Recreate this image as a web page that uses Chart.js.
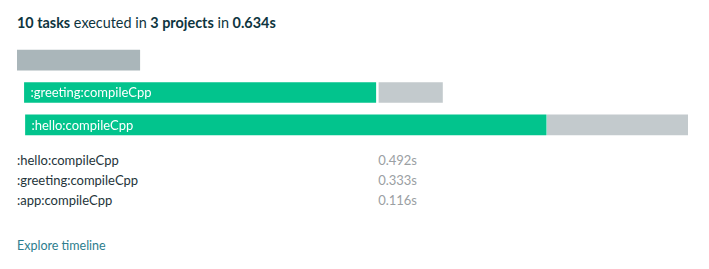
<!DOCTYPE html>
<html>
<head>
<meta charset="utf-8">
<script src="https://cdn.jsdelivr.net/npm/chart.js@4/dist/chart.umd.min.js"></script>
<style>
  html, body { margin: 0; padding: 0; background: #fff; width: 709px; height: 269px; overflow: hidden; font-family: Lato, "Open Sans", sans-serif; }
  #title { position: absolute; left: 17px; top: 14px; font-size: 14.4px; color: #0e3540; white-space: nowrap; }
  #title b { font-weight: 700; }
  #wrap { position: absolute; left: 17px; top: 44px; width: 671px; height: 97px; }
  #tbl { position: absolute; left: 17px; top: 150px; width: 400px; font-size: 13px; }
  .row { position: relative; height: 20px; line-height: 20px; }
  .row .n { position: absolute; left: 0; color: #24343a; }
  .row .v { position: absolute; right: 0; color: #9ba0a3; }
  #link { position: absolute; left: 17px; top: 238px; font-size: 12.5px; color: #2d7d8e; }
</style>
</head>
<body>
<div id="title"><b>10 tasks</b> executed in <b>3 projects</b> in <b>0.634s</b></div>
<div id="wrap"><canvas id="c"></canvas></div>
<div id="tbl"></div>
<div id="link">Explore timeline</div>
<script>
// Timeline rows (one per project lane)
const rows = ['app', 'greeting', 'hello'];
// Floating bar ranges in seconds [start, end]
const projectSpan = [[0, 0.116], null, null];
const compileTasks = [null, [0.007, 0.339], [0.008, 0.500]];
const otherTasks = [null, [0.342, 0.402], [0.501, 0.634]];
const compileLabels = [null, ':greeting:compileCpp', ':hello:compileCpp'];
const totalTime = 0.634;
// Slowest tasks table
const taskNames = [':hello:compileCpp', ':greeting:compileCpp', ':app:compileCpp'];
const taskDurations = [0.492, 0.333, 0.116];

const tbl = document.getElementById('tbl');
taskNames.forEach((n, i) => {
  const r = document.createElement('div');
  r.className = 'row';
  r.innerHTML = '<span class="n"></span><span class="v"></span>';
  r.querySelector('.n').textContent = n;
  r.querySelector('.v').textContent = taskDurations[i].toFixed(3) + 's';
  tbl.appendChild(r);
});

const labelPlugin = {
  id: 'barLabels',
  afterDatasetsDraw(chart) {
    const ctx = chart.ctx;
    const meta = chart.getDatasetMeta(1);
    ctx.save();
    ctx.font = '13px Lato, sans-serif';
    ctx.fillStyle = '#ffffff';
    ctx.textBaseline = 'middle';
    ctx.textAlign = 'left';
    meta.data.forEach((el, i) => {
      if (!compileLabels[i]) return;
      const left = Math.min(el.x, el.base);
      ctx.fillText(compileLabels[i], left + 6, el.y + 0.5);
    });
    ctx.restore();
  }
};

new Chart(document.getElementById('c'), {
  type: 'bar',
  data: {
    labels: rows,
    datasets: [
      { data: projectSpan, backgroundColor: '#aab6ba', grouped: false, barThickness: 20, borderWidth: 0 },
      { data: compileTasks, backgroundColor: '#02c48d', grouped: false, barThickness: 20, borderWidth: 0 },
      { data: otherTasks, backgroundColor: '#c3cacd', grouped: false, barThickness: 20, borderWidth: 0 }
    ]
  },
  options: {
    indexAxis: 'y',
    responsive: true,
    maintainAspectRatio: false,
    animation: false,
    layout: { padding: 0 },
    plugins: { legend: { display: false }, tooltip: { enabled: false } },
    scales: {
      x: { display: false, min: 0, max: totalTime },
      y: { display: false }
    }
  },
  plugins: [labelPlugin]
});
</script>
</body>
</html>
